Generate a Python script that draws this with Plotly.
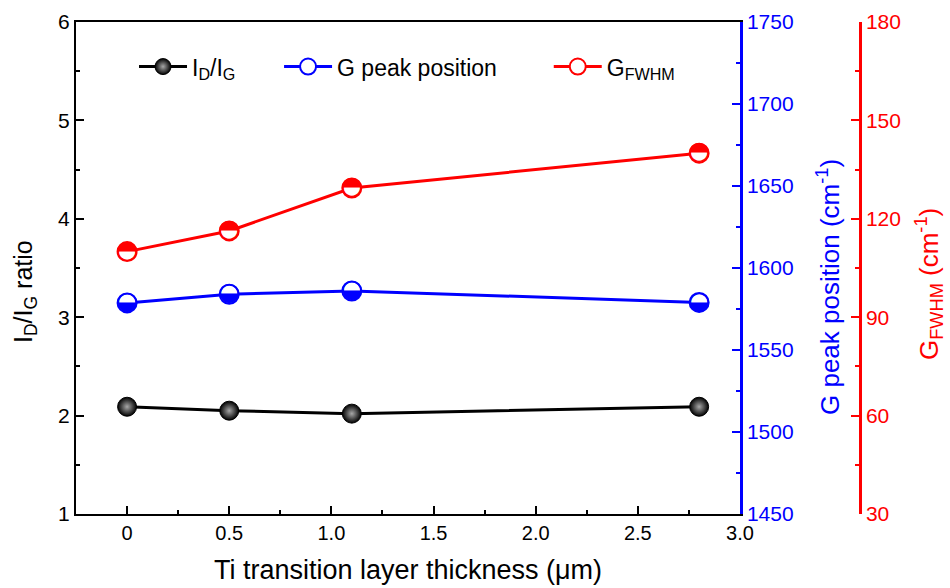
import plotly.graph_objects as go

thickness = [0, 0.5, 1.1, 2.8]
id_ig = [2.09, 2.05, 2.02, 2.09]
g_peak = [1578.7, 1584.0, 1586.0, 1579.0]
g_fwhm = [110.0, 116.3, 129.4, 140.0]

FONT = "Liberation Sans, Arial, sans-serif"
BLUE = "#0000ff"
RED = "#ff0000"
MS = 19
GS = 25

L, R, T, B = 76, 90, 22, 74
W, H = 950, 588
PW, PH = W - L - R, H - T - B


def px(xp):
    return (xp - L) / PW


def py(yp):
    return 1 - (yp - T) / PH


fig = go.Figure()

fig.add_trace(go.Scatter(
    x=thickness, y=id_ig, name="I<sub>D</sub>/I<sub>G</sub>", mode="lines+markers",
    line=dict(color="black", width=3),
    marker=dict(symbol="circle", size=MS, color="#000000",
                gradient=dict(type="radial", color="#a8a8a8"),
                line=dict(color="black", width=1)),
    yaxis="y", legend="legend"))

fig.add_trace(go.Scatter(
    x=thickness, y=g_peak, name="G peak position", mode="lines+markers",
    line=dict(color=BLUE, width=3),
    marker=dict(symbol="circle", size=MS, color="white", line=dict(color=BLUE, width=2)),
    yaxis="y2", legend="legend2"))
fig.add_trace(go.Scatter(
    x=thickness, y=g_peak, mode="text", text=["\u25d2"] * len(thickness),
    textfont=dict(color=BLUE, size=GS, family="DejaVu Sans"), textposition="middle center",
    showlegend=False, hoverinfo="skip", yaxis="y2"))

fig.add_trace(go.Scatter(
    x=thickness, y=g_fwhm, name="G<sub>FWHM</sub>", mode="lines+markers",
    line=dict(color=RED, width=3),
    marker=dict(symbol="circle", size=MS, color="white", line=dict(color=RED, width=2)),
    yaxis="y3", legend="legend3"))
fig.add_trace(go.Scatter(
    x=thickness, y=g_fwhm, mode="text", text=["\u25d3"] * len(thickness),
    textfont=dict(color=RED, size=GS, family="DejaVu Sans"), textposition="middle center",
    showlegend=False, hoverinfo="skip", yaxis="y3"))

xdom_right = (740 - L) / PW

leg_common = dict(orientation="h", y=0.953, xanchor="left", yanchor="top",
                  font=dict(size=23), bgcolor="rgba(0,0,0,0)", itemwidth=48)

fig.update_layout(
    width=W, height=H,
    margin=dict(l=L, r=R, t=T, b=B),
    paper_bgcolor="white", plot_bgcolor="white",
    font=dict(family=FONT, size=21, color="black"),
    showlegend=True,
    legend=dict(x=0.074, **leg_common),
    legend2=dict(x=0.259, **leg_common),
    legend3=dict(x=0.603, **leg_common),
    xaxis=dict(domain=[0, xdom_right], range=[-0.25, 3.0],
               tickvals=[0, 0.5, 1.0, 1.5, 2.0, 2.5, 3.0],
               ticktext=["0", "0.5", "1.0", "1.5", "2.0", "2.5", "3.0"],
               ticks="inside", ticklen=8, tickwidth=1.5, tickcolor="black",
               minor=dict(dtick=0.25, ticks="inside", ticklen=4, tickwidth=1.5, tickcolor="black"),
               showline=True, linecolor="black", linewidth=2, mirror=True,
               showgrid=False, zeroline=False, automargin=False,
               tickfont=dict(size=20),
               title=dict(text="Ti transition layer thickness (\u03bcm)", font=dict(size=27), standoff=17)),
    yaxis=dict(range=[1, 6], dtick=1, ticks="inside", ticklen=8, tickwidth=1.5, tickcolor="black",
               minor=dict(dtick=0.5, ticks="inside", ticklen=4, tickwidth=1.5, tickcolor="black"),
               showline=True, linecolor="black", linewidth=2, automargin=False,
               showgrid=False, zeroline=False, tickfont=dict(size=21)),
    yaxis2=dict(range=[1450, 1750], dtick=50, overlaying="y", side="right", anchor="x",
                ticks="inside", ticklen=8, tickwidth=1.5, tickcolor=BLUE,
                minor=dict(dtick=25, ticks="inside", ticklen=4, tickwidth=1.5, tickcolor=BLUE),
                showline=True, linecolor=BLUE, linewidth=2.5, automargin=False,
                showgrid=False, zeroline=False,
                tickfont=dict(size=21, color=BLUE)),
    yaxis3=dict(range=[30, 180], dtick=30, overlaying="y", side="right", anchor="free", position=1.0,
                ticks="inside", ticklen=8, tickwidth=1.5, tickcolor=RED,
                minor=dict(dtick=15, ticks="inside", ticklen=4, tickwidth=1.5, tickcolor=RED),
                showline=True, linecolor=RED, linewidth=2.5, automargin=False,
                showgrid=False, zeroline=False,
                tickfont=dict(size=21, color=RED)),
    annotations=[
        dict(text="I<sub>D</sub>/I<sub>G</sub> ratio", textangle=-90, xref="paper", yref="paper",
             x=px(25), y=py(292), xanchor="center", yanchor="middle", showarrow=False,
             font=dict(size=25, color="black")),
        dict(text="G peak position (cm<sup>-1</sup>)", textangle=-90, xref="paper", yref="paper",
             x=px(828), y=py(287), xanchor="center", yanchor="middle", showarrow=False,
             font=dict(size=26, color=BLUE)),
        dict(text="G<sub>FWHM</sub> (cm<sup>-1</sup>)", textangle=-90, xref="paper", yref="paper",
             x=px(929), y=py(284), xanchor="center", yanchor="middle", showarrow=False,
             font=dict(size=26, color=RED)),
    ],
)

fig.write_html("out.html")
